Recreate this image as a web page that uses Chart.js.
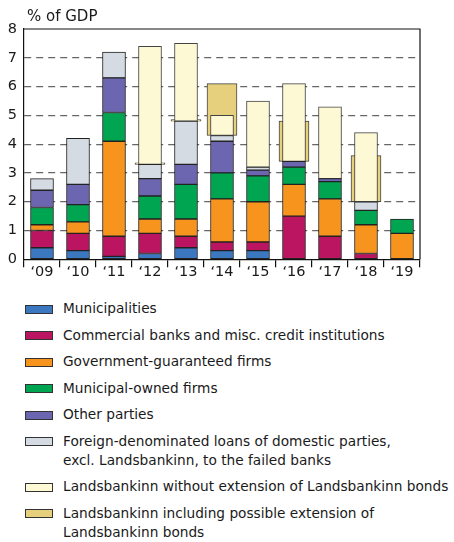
<!DOCTYPE html>
<html>
<head>
<meta charset="utf-8">
<script src="https://cdn.jsdelivr.net/npm/chart.js@4/dist/chart.umd.min.js"></script>
<style>
  html, body { margin: 0; padding: 0; background: #fff; }
  #wrap { position: relative; width: 454px; height: 542px; overflow: hidden; }
  #c { position: absolute; left: 0; top: 0; }
  #legend { position: absolute; left: 0; top: 299px; font-family: "DejaVu Sans", sans-serif; font-size: 13.7px; color: #1a1a1a; white-space: nowrap; }
  .item { position: relative; padding-left: 63px; line-height: 19px; margin-bottom: 7.5px; }
  .box { position: absolute; left: 25px; top: 5.5px; width: 26px; height: 7px; border: 1px solid #333; }
</style>
</head>
<body>
<div id="wrap">
  <canvas id="c" width="454" height="290"></canvas>
  <div id="legend"></div>
</div>
<script>
const categories = ["\u201809", "\u201810", "\u201811", "\u201812", "\u201813", "\u201814", "\u201815", "\u201816", "\u201817", "\u201818", "\u201819"];
const yTicks = [0, 1, 2, 3, 4, 5, 6, 7, 8];

const municipalities   = [0.4, 0.3, 0.1, 0.2, 0.4, 0.3, 0.3, 0,   0,   0,   0];
const commercialBanks  = [0.6, 0.6, 0.7, 0.7, 0.4, 0.3, 0.3, 1.5, 0.8, 0.2, 0];
const govGuaranteed    = [0.2, 0.4, 3.3, 0.5, 0.6, 1.5, 1.4, 1.1, 1.3, 1.0, 0.9];
const municipalOwned   = [0.6, 0.6, 1.0, 0.8, 1.2, 0.9, 0.9, 0.6, 0.6, 0.5, 0.5];
const otherParties     = [0.6, 0.7, 1.2, 0.6, 0.7, 1.1, 0.2, 0.2, 0.1, 0,   0];
const foreignLoans     = [0.4, 1.6, 0.9, 0.5, 1.5, 0.2, 0.1, 0,   0,   0.3, 0];
const lbWithout        = [null, null, null, [3.3, 7.4], [4.8, 7.5], [4.3, 5.0], [3.2, 5.5], [3.4, 6.1], [2.8, 5.3], [2.0, 4.4], null];
const lbIncluding      = [null, null, null, [3.3, 3.3], [4.8, 4.8], [4.3, 6.1], null, [3.4, 4.8], null, [2.0, 3.6], null];

const seriesLabels = [
  "Municipalities",
  "Commercial banks and misc. credit institutions",
  "Government-guaranteed firms",
  "Municipal-owned firms",
  "Other parties",
  "Foreign-denominated loans of domestic parties,\nexcl. Landsbankinn, to the failed banks",
  "Landsbankinn without extension of Landsbankinn bonds",
  "Landsbankinn including possible extension of\nLandsbankinn bonds"
];
const seriesColors = ["#3b78c0", "#bb1460", "#f7941d", "#00a551", "#6c66b0", "#d4dbe3", "#fdf9d4", "#e6cf7d"];

const stackedSeries = [municipalities, commercialBanks, govGuaranteed, municipalOwned, otherParties, foreignLoans];

const datasets = stackedSeries.map((d, i) => ({
  label: seriesLabels[i],
  data: d.map(v => (v === 0 ? null : v)),
  backgroundColor: seriesColors[i],
  borderColor: "#222",
  borderWidth: 1,
  borderSkipped: false,
  barThickness: 23,
  stack: "main"
}));
datasets.push({
  label: seriesLabels[6],
  data: lbWithout,
  backgroundColor: seriesColors[6],
  borderColor: "#444",
  borderWidth: 1,
  borderSkipped: false,
  barThickness: 23,
  grouped: false,
  stack: "lbw"
});
datasets.push({
  label: seriesLabels[7],
  data: lbIncluding,
  backgroundColor: seriesColors[7],
  borderColor: "#444",
  borderWidth: 1,
  borderSkipped: false,
  barThickness: 30,
  minBarLength: 1.5,
  grouped: false,
  stack: "lbi"
});

const framePlugin = {
  id: "frame",
  afterDraw(chart) {
    const { ctx, chartArea: a } = chart;
    ctx.save();
    ctx.strokeStyle = "#111";
    ctx.lineWidth = 1.2;
    ctx.beginPath();
    ctx.moveTo(a.left, a.top);
    ctx.lineTo(a.right, a.top);
    ctx.lineTo(a.right, a.bottom);
    ctx.stroke();
    ctx.fillStyle = "#1a1a1a";
    ctx.font = "15px 'DejaVu Sans', sans-serif";
    ctx.textBaseline = "alphabetic";
    ctx.fillText("% of GDP", a.left + 3, 21);
    ctx.restore();
  }
};

new Chart(document.getElementById("c"), {
  type: "bar",
  data: { labels: categories, datasets },
  options: {
    responsive: false,
    animation: false,
    devicePixelRatio: 1,
    layout: { padding: { left: 0, right: 34, top: 29, bottom: 0 } },
    plugins: { legend: { display: false }, tooltip: { enabled: false } },
    scales: {
      x: {
        stacked: true,
        offset: true,
        grid: { offset: true, drawOnChartArea: false, drawTicks: true, tickLength: 8, color: "#111", lineWidth: 1.2 },
        border: { display: true, color: "#111", width: 1.2 },
        ticks: { color: "#1a1a1a", font: { family: "DejaVu Sans", size: 14.5 }, padding: -4, maxRotation: 0, autoSkip: false },
        afterFit(scale) { scale.height = 30.7; }
      },
      y: {
        stacked: true,
        min: 0,
        max: 8,
        afterBuildTicks(scale) { scale.ticks = yTicks.map(v => ({ value: v })); },
        grid: {
          drawTicks: false,
          color: (ctx) => (ctx.tick && (ctx.tick.value === 0 || ctx.tick.value === 8)) ? "rgba(0,0,0,0)" : "#666",
          lineWidth: 1.3
        },
        border: { display: true, color: "#111", width: 1.2, dash: [7, 5] },
        ticks: { color: "#1a1a1a", font: { family: "DejaVu Sans", size: 14.5 }, padding: 7 },
        afterFit(scale) { scale.width = 24; }
      }
    }
  },
  plugins: [framePlugin]
});

// HTML legend built from the series labels and colours
const legend = document.getElementById("legend");
seriesLabels.forEach((lab, i) => {
  const item = document.createElement("div");
  item.className = "item";
  const box = document.createElement("span");
  box.className = "box";
  box.style.background = seriesColors[i];
  item.appendChild(box);
  lab.split("\n").forEach((line, j) => {
    if (j > 0) item.appendChild(document.createElement("br"));
    item.appendChild(document.createTextNode(line));
  });
  legend.appendChild(item);
});
</script>
</body>
</html>
